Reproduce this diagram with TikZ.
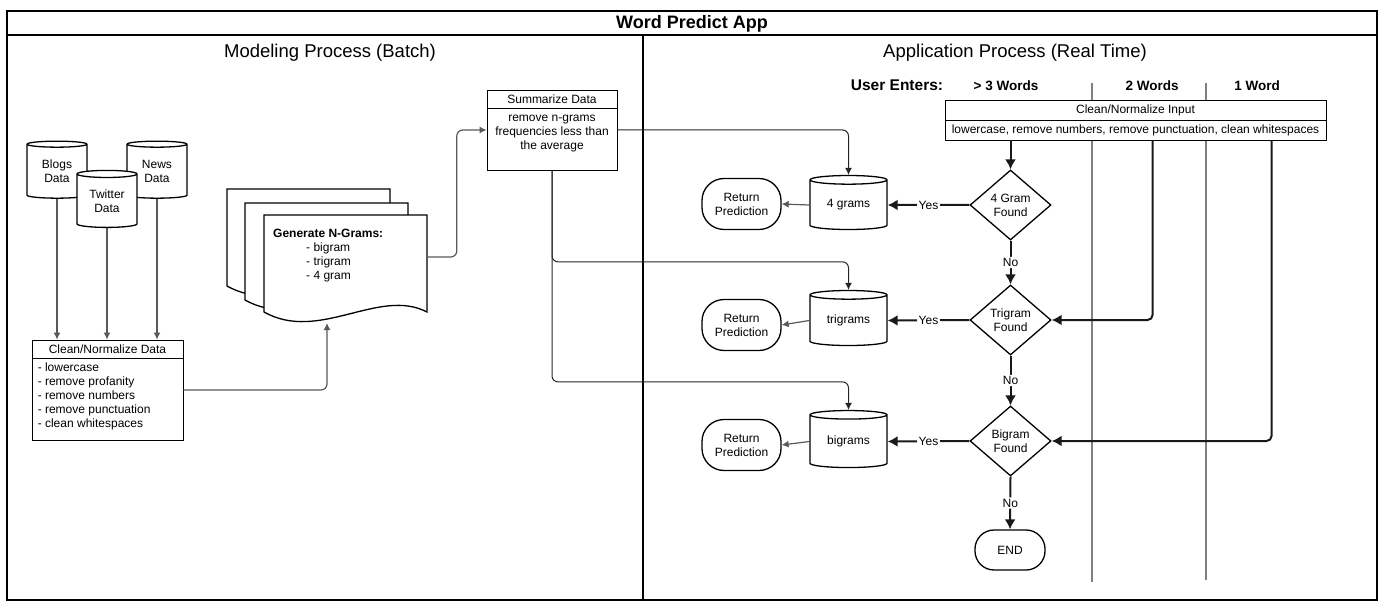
\documentclass[tikz,border=0pt]{standalone}
\usepackage{fontspec}
\setmainfont{Liberation Sans}
\usetikzlibrary{calc,arrows.meta,positioning,shapes.geometric}

\newcommand{\normtext}{\fontsize{12}{14}\selectfont}

\begin{document}
\begin{tikzpicture}[x=1pt,y=-1pt,
  every node/.style={font=\normtext},
  box/.style={draw,fill=white,inner sep=0pt,line width=0.9pt},
  tank/.style={cylinder,shape border rotate=90,draw,fill=white,line width=1.3pt,aspect=0.2,inner sep=0pt,minimum width=60pt,minimum height=57pt,align=center},
  decision/.style={diamond,draw,fill=white,line width=1.3pt,inner sep=0pt,minimum width=81pt,minimum height=70pt,align=center},
  terminal/.style={draw,fill=white,line width=1.3pt,rounded corners=22pt,minimum width=79pt,minimum height=51pt,align=center},
  doc/.style={draw,fill=white,line width=1.3pt},
  lane/.style={draw=black!50,line width=1.2pt},
  flow/.style={draw=black!65,line width=1.2pt,-{Latex[length=7pt,width=7pt]},rounded corners=6pt},
  flowdark/.style={draw=black!85,line width=1pt,-{Latex[length=7pt,width=7pt]},rounded corners=6pt},
  flowbold/.style={draw=black!90,line width=2pt,-{Latex[length=10pt,width=11pt]},rounded corners=5pt},
  tag/.style={fill=white,inner sep=1.5pt}]
\useasboundingbox (0,0) rectangle (1388,609);

% frame and headings
\draw[line width=2pt] (7,11) rectangle (1377,600);
\draw[line width=2pt] (7,35) -- (1377,35);
\draw[line width=2pt] (643,35) -- (643,600);
\node[anchor=base,font=\fontsize{18}{20}\selectfont\bfseries] (title) at (692,29) {Word Predict App};
\node[anchor=base,font=\fontsize{18.5}{20}\selectfont] (batch) at (330,58) {Modeling Process (Batch)};
\node[anchor=base,font=\fontsize{18.5}{20}\selectfont] (realtime) at (1015,58) {Application Process (Real Time)};

% modeling side
\node[tank] (blogs) at (57,171.5) {Blogs\\Data};
\node[tank] (news) at (157,171.5) {News\\Data};
\node[tank] (twitter) at (107,201) {Twitter\\Data};

\node[box,minimum width=151pt,minimum height=100pt] (clean) at (107.5,390) {};
\node[box,minimum width=151pt,minimum height=18pt,anchor=north] (cleanhead) at (clean.north) {Clean/Normalize Data};
\node[align=left,inner sep=0pt,anchor=north west] (cleanbody) at ([xshift=6pt,yshift=-3pt]cleanhead.south west)
  {\strut- lowercase\\- remove profanity\\- remove numbers\\- remove punctuation\\- clean whitespaces};

\foreach \dx/\dy in {0/0,18/14,37/26}
  \draw[doc,shift={(227+\dx,189+\dy)}] (0,0) -- (163,0) -- (163,97) .. controls (115,72) and (55,128) .. (0,97) -- cycle;
\node[align=left,inner sep=0pt,anchor=north west] (gen) at (273,228)
  {\textbf{\strut Generate N-Grams:}\\\hspace*{33pt}- bigram\\\hspace*{33pt}- trigram\\\hspace*{33pt}- 4 gram};
\coordinate (docright) at (427,257);
\coordinate (docbot) at (327,323);

\node[box,minimum width=130pt,minimum height=80pt] (sum) at (552,130) {};
\node[box,minimum width=130pt,minimum height=18pt,anchor=north] (sumhead) at (sum.north) {Summarize Data};
\node[align=center,inner sep=0pt,anchor=north] (sumbody) at ([yshift=-3pt]sumhead.south)
  {\strut remove n-grams\\frequencies less than\\the average};

\draw[flow] (blogs.south) -- (blogs.south |- clean.north);
\draw[flow] (twitter.south) -- (twitter.south |- clean.north);
\draw[flow] (news.south) -- (news.south |- clean.north);
\draw[flow] (clean.east) -| (docbot);
\draw[flow] (docright) -| ($(docright)!.5!(sum.west)$) |- (sum.west);

% application side
\draw[lane] (1092,83) -- (1092,582);
\draw[lane] (1206,83) -- (1206,580);
\node[anchor=base,font=\fontsize{15.5}{17}\selectfont\bfseries] (user) at (897,91) {User Enters:};
\node[anchor=base,font=\fontsize{13.5}{15}\selectfont\bfseries] (lane3) at (1006,91) {> 3 Words};
\node[anchor=base,font=\fontsize{13.5}{15}\selectfont\bfseries] (lane2) at (1152,91) {2 Words};
\node[anchor=base,font=\fontsize{13.5}{15}\selectfont\bfseries] (lane1) at (1257,91) {1 Word};

\node[box,minimum width=381pt,minimum height=40pt] (inp) at (1135.5,120) {};
\node[box,minimum width=381pt,minimum height=20pt,anchor=north] (inphead) at (inp.north) {Clean/Normalize Input};
\node[inner sep=0pt,minimum height=20pt,below=0pt of inphead] (inpbody) {lowercase, remove numbers, remove punctuation, clean whitespaces};

\node[decision] (d4) at (1010.5,205) {4 Gram\\Found};
\node[decision] (d3) at (1010.5,320) {Trigram\\Found};
\node[decision] (d2) at (1010.5,441) {Bigram\\Found};
\node[terminal,minimum width=70pt,minimum height=40pt,rounded corners=19pt] (end) at (1010,550) {END};

\node[tank,minimum width=77pt,minimum height=54pt] (tg4) at (848.5,205) {4 grams};
\node[tank,minimum width=77pt,minimum height=55pt] (tg3) at (848.5,320.5) {trigrams};
\node[tank,minimum width=77pt,minimum height=57pt] (tg2) at (848.5,441.5) {bigrams};

\node[terminal] (ret4) at (741.5,204) {Return\\Prediction};
\node[terminal] (ret3) at (741.5,325) {Return\\Prediction};
\node[terminal] (ret2) at (741.5,445) {Return\\Prediction};

\draw[flowdark] (sum.east) -| (tg4.north);
\draw[flowdark] (sum.south) |- ($(tg3.north)+(0,-28)$) -- (tg3.north);
\draw[flowdark] (sum.south) |- ($(tg2.north)+(0,-28)$) -- (tg2.north);

\draw[flowbold] (d4.north |- inp.south) -- (d4.north);
\draw[flowbold] ([xshift=208pt]inp.south west) |- (d3.east);
\draw[flowbold] ([xshift=327pt]inp.south west) |- (d2.east);

\draw[flowbold] (d4.west) -- node[tag] {Yes} (tg4.east);
\draw[flowbold] (d3.west) -- node[tag] {Yes} (tg3.east);
\draw[flowbold] (d2.west) -- node[tag] {Yes} (tg2.east);
\draw[flowbold] (d4.south) -- node[tag] {No} (d3.north);
\draw[flowbold] (d3.south) -- node[tag] {No} (d2.north);
\draw[flowbold] (d2.south) -- node[tag] {No} (end.north);

\draw[flow] (tg4.west) -- (ret4.east);
\draw[flow] (tg3.west) -- (ret3.east);
\draw[flow] (tg2.west) -- (ret2.east);
\end{tikzpicture}
\end{document}
